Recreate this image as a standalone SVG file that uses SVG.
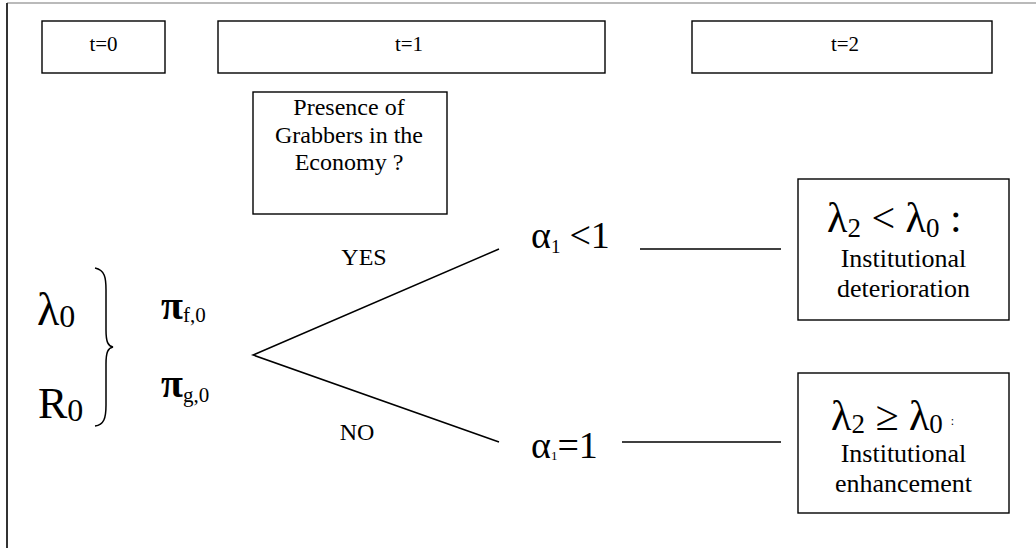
<svg xmlns="http://www.w3.org/2000/svg" width="1036" height="548" viewBox="0 0 1036 548" font-family="'Liberation Serif', 'DejaVu Serif', serif">
<style>
text{font-family:"Liberation Serif","DejaVu Serif",serif;fill:#000}
.box{fill:#fff;stroke:#000;stroke-width:1.4}
.ln{stroke:#000;stroke-width:1.5;fill:none}
.c{text-anchor:middle}
</style>
<rect width="1036" height="548" fill="#fff"/>
<g id="frame">
<line x1="7" y1="3" x2="1036" y2="3" stroke="#777" stroke-width="1.2"/>
<line x1="7" y1="3" x2="7" y2="548" stroke="#333" stroke-width="2"/>
</g>
<g id="t0"><rect class="box" x="42" y="21" width="123" height="52"/><text class="c" x="103.5" y="51" font-size="21">t=0</text></g>
<g id="t1"><rect class="box" x="218" y="21" width="387" height="52"/><text class="c" x="409" y="51" font-size="21">t=1</text></g>
<g id="t2"><rect class="box" x="692" y="21" width="300" height="52"/><text class="c" x="845" y="51" font-size="21">t=2</text></g>
<g id="question"><rect class="box" x="253" y="92" width="194" height="122"/>
<text class="c" x="349" y="115" font-size="24">Presence of</text>
<text class="c" x="349" y="143" font-size="24">Grabbers in the</text>
<text class="c" x="349" y="170" font-size="24">Economy ?</text></g>
<g id="initial">
<text x="37" y="325" font-size="46">λ<tspan font-size="32" dy="2">0</tspan></text>
<text x="38" y="418" font-size="44">R<tspan font-size="32" dy="3">0</tspan></text>
<path class="ln" d="M95,268 C105,270 106,278 106,290 L106,330 C106,342 108,346 113,347 C108,348 106,352 106,364 L106,405 C106,418 104,425 95,426" stroke-width="1.2"/>
<text x="161" y="319" font-size="40" font-weight="bold">π<tspan font-size="21" font-weight="normal" dy="3">f,0</tspan></text>
<text x="161" y="397" font-size="40" font-weight="bold">π<tspan font-size="21" font-weight="normal" dy="5">g,0</tspan></text>
</g>
<g id="connectors">
<polyline class="ln" points="499,249 253,355 499,442"/>
<line class="ln" x1="640" y1="249" x2="781" y2="249"/>
<line class="ln" x1="622" y1="442" x2="781" y2="442"/>
</g>
<g id="labels">
<text class="c" x="364" y="265" font-size="24">YES</text>
<text class="c" x="357" y="440" font-size="24">NO</text>
</g>
<g id="alpha-lt"><text x="531" y="248" font-size="38">α<tspan font-size="19" dy="5">1</tspan><tspan dy="-5" dx="9">&lt;1</tspan></text></g>
<g id="alpha-eq"><text x="531" y="458" font-size="38">α<tspan font-size="13" dy="2">1</tspan><tspan dy="-2">=1</tspan></text></g>
<g id="deterioration"><rect class="box" x="798" y="179" width="211" height="141"/>
<text x="827" y="232" font-size="42">λ<tspan font-size="27" dy="5">2</tspan><tspan dy="-5"> &lt; λ</tspan><tspan font-size="27" dy="5">0</tspan><tspan dy="-5"> :</tspan></text>
<text class="c" x="903.5" y="267" font-size="26">Institutional</text>
<text class="c" x="903.5" y="297" font-size="26">deterioration</text></g>
<g id="enhancement"><rect class="box" x="798" y="373" width="211" height="140"/>
<text x="831" y="430" font-size="42">λ<tspan font-size="27" dy="3">2</tspan><tspan dy="-3"> ≥ λ</tspan><tspan font-size="27" dy="3">0</tspan><tspan font-size="12" dy="-8" dx="8">:</tspan></text>
<text class="c" x="903.5" y="462" font-size="26">Institutional</text>
<text class="c" x="903.5" y="492" font-size="26">enhancement</text></g>
</svg>
